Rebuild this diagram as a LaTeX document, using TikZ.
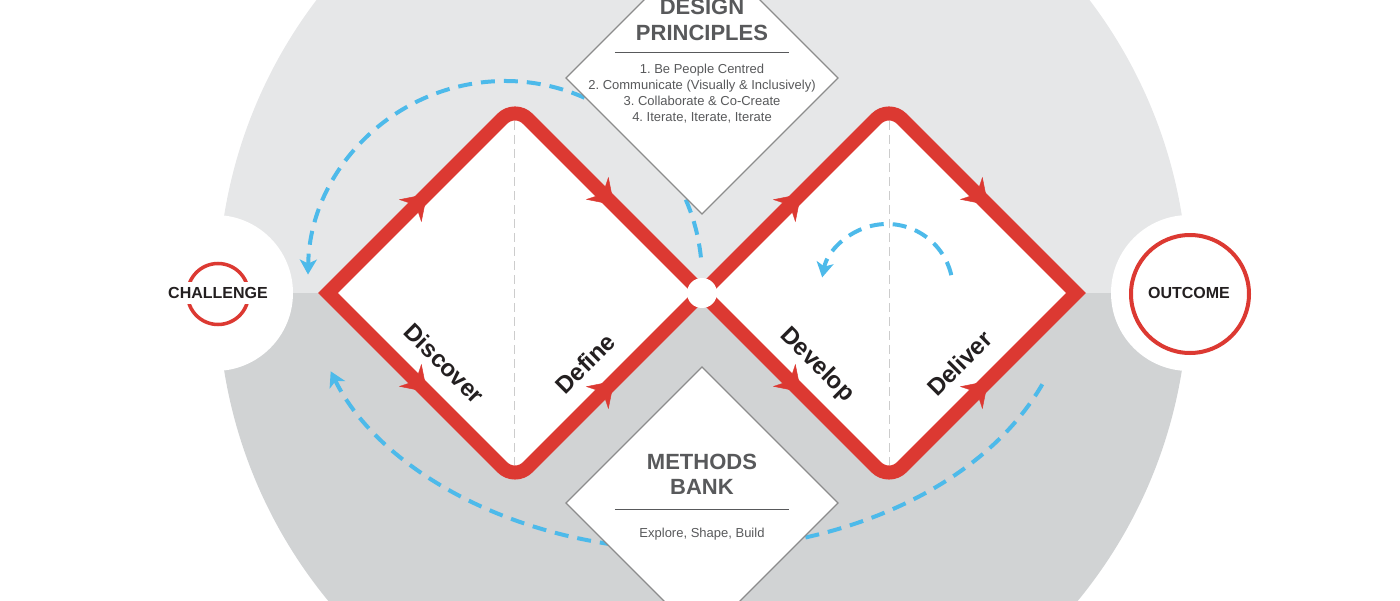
\documentclass[tikz,border=0pt]{standalone}
\usepackage{fontspec}
\setmainfont{Liberation Sans}
\frenchspacing
\usepackage{tikz}
\usetikzlibrary{arrows.meta,decorations.markings}
\definecolor{ddred}{RGB}{220,57,50}
\definecolor{ddblue}{RGB}{77,186,234}
\definecolor{graytop}{RGB}{230,231,232}
\definecolor{graybot}{RGB}{209,211,212}
\definecolor{txtgray}{RGB}{88,89,91}
\definecolor{txtdark}{RGB}{35,31,32}

\begin{document}
\begin{tikzpicture}[x=1pt,y=1pt]
	\tikzstyle{every node}=[inner sep=0pt]
	\tikzstyle{phase}=[font=\fontsize{24}{24}\selectfont\bfseries, text=txtdark, fill=white, inner sep=1pt, anchor=base]
	\tikzstyle{bigtitle}=[font=\fontsize{22}{22}\selectfont\bfseries, text=txtgray, anchor=base]
	\tikzstyle{smalltext}=[font=\fontsize{13}{13}\selectfont, text=txtgray, anchor=base]
	\tikzstyle{endtext}=[font=\fontsize{16}{16}\selectfont\bfseries, text=txtdark]
	\tikzstyle{reddiamond}=[draw=ddred, line width=14pt, line join=miter]
	\tikzstyle{flowarrow}=[postaction={decorate}, decoration={markings, mark=at position 0.53 with {\arrow[ddred]{Stealth[length=24pt,width=32pt,inset=8pt]}}}]
	\tikzstyle{loopdash}=[draw=ddblue, line width=4pt, dash pattern=on 14pt off 9pt, -{Stealth[length=15pt,width=17pt,inset=4pt]}]
	\tikzstyle{greybox}=[draw=black!45, line width=1.2pt, fill=white]
	
	\useasboundingbox (-702,-307) rectangle (698,293);
	\clip (-702,-307) rectangle (698,293);
	
	%Hintergrund: Kreis in zwei Haelften
	\fill[graytop] (-484,0) arc[start angle=180, end angle=0, radius=485] -- cycle;
	\fill[graybot] (-484,0) arc[start angle=180, end angle=360, radius=485] -- cycle;
	\fill[white] (-487,0) circle (78) (487,0) circle (78);
	
	%Eckpunkte der Rauten
	\coordinate (d1l) at (-374,0);
	\coordinate (d1t) at (-187,187);
	\coordinate (d1b) at (-187,-187);
	\coordinate (mid) at (0,0);
	\coordinate (d2t) at (187,187);
	\coordinate (d2b) at (187,-187);
	\coordinate (d2r) at (374,0);
	
	%Rauten (weiss gefuellt)
	\fill[white] (d1l) -- (d1t) -- (mid) -- (d1b) -- cycle;
	\fill[white] (mid) -- (d2t) -- (d2r) -- (d2b) -- cycle;
	\draw[black!20, line width=1pt, dash pattern=on 9pt off 5pt] (-187,172) -- (-187,-172) (187,172) -- (187,-172); %Mittellinien
	
	\draw[reddiamond] (d1l) -- ([shift={(-12.73,-12.73)}]d1t) arc[start angle=135, end angle=45, radius=18] -- (mid) -- ([shift={(12.73,12.73)}]d1b) arc[start angle=-45, end angle=-135, radius=18] -- cycle;
	\draw[reddiamond] (mid) -- ([shift={(-12.73,-12.73)}]d2t) arc[start angle=135, end angle=45, radius=18] -- (d2r) -- ([shift={(12.73,12.73)}]d2b) arc[start angle=-45, end angle=-135, radius=18] -- cycle;
	
	%Pfeile auf den Kanten
	\path[flowarrow] (d1l) -- (d1t);
	\path[flowarrow] (d1l) -- (d1b);
	\path[flowarrow] (d1t) -- (mid);
	\path[flowarrow] (d1b) -- (mid);
	\path[flowarrow] (mid) -- (d2t);
	\path[flowarrow] (mid) -- (d2b);
	\path[flowarrow] (d2t) -- (d2r);
	\path[flowarrow] (d2b) -- (d2r);
	\fill[white] (mid) circle (15);
	
	%Phasen
	\node[phase, rotate=-45] (disc) at (-263.5,-76.5) {Discover};
	\node[phase, rotate=45] (defi) at (-110.5,-76.5) {Define};
	\node[phase, rotate=-45] (deve) at (110.5,-76.5) {Develop};
	\node[phase, rotate=45] (deli) at (263.5,-76.5) {Deliver};
	
	%Rueckkopplung (blau gestrichelt)
	\draw[loopdash] (-197,15) ++(6:197) arc[start angle=6, end angle=179, radius=197];
	\draw[loopdash] (-12,8) ++(-22:380 and 265) arc[start angle=-22, end angle=-161, x radius=380, y radius=265];
	\draw[loopdash] (185,3) ++(13:66) arc[start angle=13, end angle=169, radius=66];
	
	%Design Principles
	\draw[greybox] (0,351) -- (136,215) -- (0,79) -- (-136,215) -- cycle;
	\node[bigtitle] (dpa) at (0,278) {DESIGN};
	\node[bigtitle] (dpb) at (0,252) {PRINCIPLES};
	\draw[txtgray, line width=1pt] (-87,240) -- (87,240);
	\foreach \t [count=\i] in {1. Be People Centred, 2. Communicate (Visually \& Inclusively), 3. Collaborate \& Co-Create, {4. Iterate, Iterate, Iterate}}
		\node[smalltext] (dp\i) at (0,235-16*\i) {\t};
	
	%Methods Bank
	\draw[greybox] (0,-74) -- (136,-210) -- (0,-346) -- (-136,-210) -- cycle;
	\node[bigtitle] (mba) at (0,-176) {METHODS};
	\node[bigtitle] (mbb) at (0,-201) {BANK};
	\draw[txtgray, line width=1pt] (-87,-216) -- (87,-216);
	\node[smalltext] (mbc) at (0,-244) {Explore, Shape, Build};
	
	%Start und Ziel
	\draw[ddred, line width=3.5pt] (-484,-1) circle (30.5);
	\node[endtext, fill=white, inner xsep=1pt, inner ysep=5.5pt] (chal) at (-484,0) {CHALLENGE};
	\draw[ddred, line width=4pt] (488,-1) circle (59);
	\node[endtext] (outc) at (487,0) {OUTCOME};
\end{tikzpicture}
\end{document}
